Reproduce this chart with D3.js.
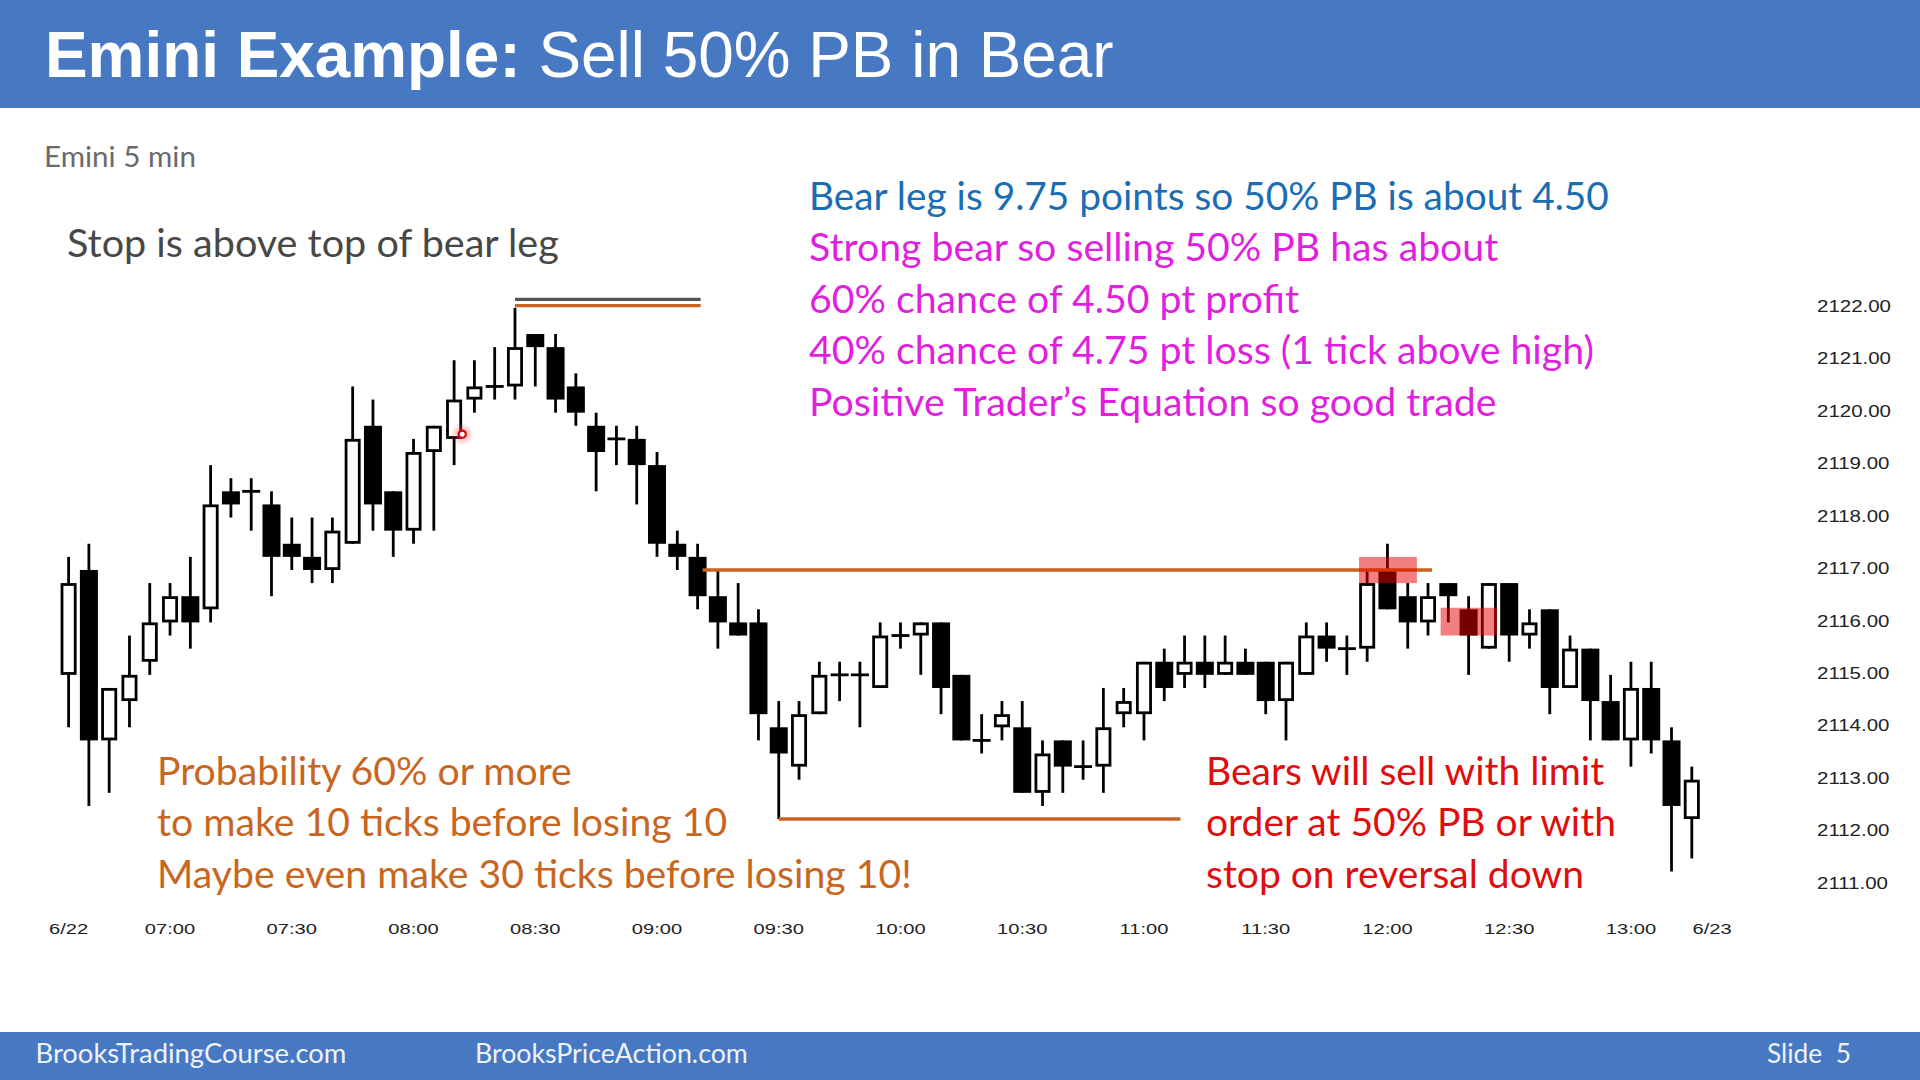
<!DOCTYPE html>
<html><head><meta charset="utf-8">
<script src="https://cdn.jsdelivr.net/npm/d3@7"></script>
<style>html,body{margin:0;padding:0;background:#fff;} svg{display:block;}</style>
</head><body>
<svg id="c" width="1920" height="1080"></svg>
<script>
// ---- DATA (Emini 5 min, 6/22, bars from 06:35) ----
const opens  = [2115.00,2117.00,2113.75,2114.50,2115.25,2116.00,2116.50,2116.25,2118.50,2118.50,
                2118.25,2117.50,2117.25,2117.00,2117.50,2119.75,2118.50,2117.75,2119.25,2119.50,
                2120.25,2120.50,2120.50,2121.50,2121.25,2120.50,2119.75,2119.50,2119.50,2119.00,
                2117.50,2117.25,2116.50,2116.00,2116.00,2114.00,2113.25,2114.25,2115.00,2115.00,
                2114.75,2115.75,2115.75,2116.00,2115.00,2113.75,2114.00,2114.00,2112.75,2113.75,
                2113.25,2113.25,2114.25,2114.25,2115.25,2115.00,2115.25,2115.00,2115.25,2115.25,
                2114.50,2115.00,2115.75,2115.50,2115.50,2117.00,2116.50,2116.00,2116.75,2116.25,
                2115.50,2116.75,2115.75,2116.25,2114.75,2115.50,2114.50,2113.75,2114.75,2113.75,
                2112.25];
const highs  = [2117.25,2117.50,2114.75,2115.75,2116.75,2116.75,2117.25,2119.00,2118.75,2118.75,
                2118.50,2118.00,2118.00,2118.00,2120.50,2120.25,2118.50,2119.50,2119.75,2121.00,
                2121.00,2121.25,2122.00,2121.50,2121.50,2120.75,2120.00,2119.75,2119.75,2119.25,
                2117.75,2117.50,2117.00,2116.75,2116.25,2114.50,2114.50,2115.25,2115.25,2115.25,
                2116.00,2116.00,2116.00,2116.00,2115.00,2114.25,2114.50,2114.50,2113.75,2113.75,
                2113.75,2114.75,2114.75,2115.25,2115.50,2115.75,2115.75,2115.75,2115.50,2115.25,
                2115.25,2116.00,2116.00,2115.75,2117.00,2117.50,2116.75,2116.75,2116.75,2116.50,
                2116.75,2116.75,2116.25,2116.25,2115.75,2115.50,2115.00,2115.25,2115.25,2114.00,
                2113.25];
const lows   = [2114.00,2112.50,2112.75,2114.00,2115.00,2115.75,2115.50,2116.00,2118.00,2117.75,
                2116.50,2117.00,2116.75,2116.75,2117.50,2117.75,2117.25,2117.50,2117.75,2119.00,
                2120.00,2120.25,2120.25,2120.50,2120.00,2119.75,2118.50,2119.00,2118.25,2117.25,
                2117.00,2116.25,2115.50,2115.75,2113.75,2112.25,2113.00,2114.25,2114.50,2114.00,
                2114.75,2115.50,2115.00,2114.25,2113.75,2113.50,2113.75,2112.75,2112.50,2112.75,
                2113.00,2112.75,2114.00,2113.75,2114.50,2114.75,2114.75,2115.00,2115.00,2114.25,
                2113.75,2115.00,2115.25,2115.00,2115.25,2116.25,2115.50,2115.75,2116.00,2115.00,
                2115.50,2115.25,2115.50,2114.25,2114.75,2113.75,2113.75,2113.25,2113.50,2111.25,
                2111.50];
const closes = [2116.75,2113.75,2114.75,2115.00,2116.00,2116.50,2116.00,2118.25,2118.25,2118.50,
                2117.25,2117.25,2117.00,2117.75,2119.50,2118.25,2117.75,2119.25,2119.75,2120.25,
                2120.50,2120.50,2121.25,2121.25,2120.25,2120.00,2119.25,2119.50,2119.00,2117.50,
                2117.25,2116.50,2116.00,2115.75,2114.25,2113.50,2114.25,2115.00,2115.00,2115.00,
                2115.75,2115.75,2116.00,2114.75,2113.75,2113.75,2114.25,2112.75,2113.50,2113.25,
                2113.25,2114.00,2114.50,2115.25,2114.75,2115.25,2115.00,2115.25,2115.00,2114.50,
                2115.25,2115.75,2115.50,2115.50,2116.75,2116.25,2116.00,2116.50,2116.50,2115.75,
                2116.75,2115.75,2116.00,2114.75,2115.50,2114.50,2113.75,2114.75,2113.75,2112.50,
                2113.00];
const yTickValues = [2111,2112,2113,2114,2115,2116,2117,2118,2119,2120,2121,2122];
const xTickBars   = [0,5,11,17,23,29,35,41,47,53,59,65,71,77,81];
const xTickLabels = ["6/22","07:00","07:30","08:00","08:30","09:00","09:30","10:00","10:30","11:00","11:30","12:00","12:30","13:00","6/23"];
// annotation levels (price) and bar spans
const stopLevel = 2122.16, bearTop = 2122.04, pbLevel = 2117, bearLow = 2112.25;
const redZones = [ {x0:63.6, x1:66.45, p0:2116.75, p1:2117.25}, {x0:67.62, x1:70.4, p0:2115.75, p1:2116.28} ];
const cursorMark = {bar:19.4, price:2119.59};

const svg = d3.select("#c");
const W = 1920, H = 1080;
const x = d3.scaleLinear().domain([0, 80]).range([68.6, 68.6 + 80*20.29]);
const y = d3.scaleLinear().domain([2111, 2122]).range([884.6, 307.8]);

svg.append("rect").attr("width",W).attr("height",H).attr("fill","#ffffff");
// header / footer bands
svg.append("rect").attr("x",0).attr("y",0).attr("width",W).attr("height",108).attr("fill","#4778c2");
svg.append("rect").attr("x",0).attr("y",1032).attr("width",W).attr("height",48).attr("fill","#4778c2");

function fit(t, w){ const cw = t.node().getComputedTextLength(); const fs = parseFloat(t.attr("font-size")); t.attr("font-size", fs*w/cw); return fs*w/cw; }

const title = svg.append("text").attr("x",45).attr("y",77).attr("font-family","'Liberation Sans', Arial, sans-serif")
  .attr("font-size",66).attr("fill","#ffffff").style("white-space","pre");
title.append("tspan").attr("font-weight","bold").text("Emini Example: ");
title.append("tspan").text("Sell 50% PB in Bear");
fit(title, 1069);

const CAL = "Lato, 'Open Sans', sans-serif";
fit(svg.append("text").attr("x",44).attr("y",167).attr("font-family",CAL).attr("font-size",26).attr("fill","#6a6a6a").text("Emini 5 min"), 152);
fit(svg.append("text").attr("x",67).attr("y",257).attr("font-family",CAL).attr("font-size",36).attr("fill","#474747").text("Stop is above top of bear leg"), 492);

const rightLines = [
  {t:"Bear leg is 9.75 points so 50% PB is about 4.50", c:"#1b6db3"},
  {t:"Strong bear so selling 50% PB has about", c:"#e01fe0"},
  {t:"60% chance of 4.50 pt profit", c:"#e01fe0"},
  {t:"40% chance of 4.75 pt loss (1 tick above high)", c:"#e01fe0"},
  {t:"Positive Trader\u2019s Equation so good trade", c:"#e01fe0"}
];
const rg = svg.append("g");
const rTexts = rg.selectAll("text").data(rightLines).join("text")
  .attr("x",809).attr("y",(d,i)=>210 + i*51.4).attr("font-family",CAL).attr("font-size",36)
  .attr("fill",d=>d.c).text(d=>d.t);
fit(d3.select(rTexts.nodes()[0]), 800);
const mfs = fit(d3.select(rTexts.nodes()[3]), 785);
rTexts.filter((d,i)=>i>0).attr("font-size", mfs);

const leftLines = ["Probability 60% or more","to make 10 ticks before losing 10","Maybe even make 30 ticks before losing 10!"];
const lTexts = svg.append("g").selectAll("text").data(leftLines).join("text")
  .attr("x",157).attr("y",(d,i)=>785 + i*51.4).attr("font-family",CAL).attr("font-size",36)
  .attr("fill","#c8661f").text(d=>d);
const lfs = fit(d3.select(lTexts.nodes()[2]), 755);
lTexts.attr("font-size", lfs);

const redLines = ["Bears will sell with limit","order at 50% PB or with","stop on reversal down"];
const bTexts = svg.append("g").selectAll("text").data(redLines).join("text")
  .attr("x",1206).attr("y",(d,i)=>785 + i*51.4).attr("font-family",CAL).attr("font-size",36)
  .attr("fill","#e00d0d").text(d=>d);
const bfs = fit(d3.select(bTexts.nodes()[1]), 410);
bTexts.attr("font-size", bfs);

// footer texts
fit(svg.append("text").attr("x",35.5).attr("y",1063).attr("font-family",CAL).attr("font-size",26).attr("fill","#eef2fb").text("BrooksTradingCourse.com"), 311);
fit(svg.append("text").attr("x",475).attr("y",1063).attr("font-family",CAL).attr("font-size",26).attr("fill","#eef2fb").text("BrooksPriceAction.com"), 273);
fit(svg.append("text").attr("x",1767).attr("y",1063).attr("font-family",CAL).attr("font-size",26).attr("fill","#eef2fb").style("white-space","pre").text("Slide  5"), 84);

// ---- axes ----
const yAxis = d3.axisRight(y).tickValues(yTickValues).tickSize(0).tickPadding(0).tickFormat(d3.format(".2f"));
const yg = svg.append("g").attr("transform","translate(1817,-2)").call(yAxis);
yg.select(".domain").remove();
yg.selectAll("text").attr("x",0).attr("dy","0.35em").attr("font-family","'Liberation Sans', Arial, sans-serif")
  .attr("font-size",16).attr("fill","#222").attr("text-anchor","start").attr("transform","scale(1.28,1)");

const xAxis = d3.axisBottom(x).tickValues(xTickBars).tickSize(0).tickPadding(0).tickFormat((d,i)=>xTickLabels[i]);
const xg = svg.append("g").attr("transform","translate(0,928.5)").call(xAxis);
xg.select(".domain").remove();
xg.selectAll("text").attr("y",0).attr("dy","0.35em").attr("font-family","'Liberation Sans', Arial, sans-serif")
  .attr("font-size",15.5).attr("fill","#222").attr("transform","scale(1.3,1)");
xg.selectAll(".tick").attr("transform", d => `translate(${x(d)},0)`);

// ---- candles ----
const bars = opens.map((o,i)=>({i, o, h:highs[i], l:lows[i], c:closes[i]}));
const SW = 2.8;
const cg = svg.append("g");
cg.selectAll("line.wick").data(bars).join("line").attr("class","wick")
  .attr("x1",d=>x(d.i)).attr("x2",d=>x(d.i)).attr("y1",d=>y(d.h)).attr("y2",d=>y(d.l))
  .attr("stroke","#000").attr("stroke-width",SW);
cg.selectAll("rect.body").data(bars.filter(d=>d.o!==d.c)).join("rect").attr("class","body")
  .attr("x",d=> d.c>d.o ? x(d.i)-8+SW/2 : x(d.i)-9)
  .attr("width",d=> d.c>d.o ? 16-SW : 18)
  .attr("y",d=> d.c>d.o ? y(Math.max(d.o,d.c))+SW/2 : y(Math.max(d.o,d.c)))
  .attr("height",d=> d.c>d.o ? Math.abs(y(d.o)-y(d.c))-SW : Math.abs(y(d.o)-y(d.c)))
  .attr("fill",d=> d.c>d.o ? "#fff" : "#000")
  .attr("stroke",d=> d.c>d.o ? "#000" : "none").attr("stroke-width",SW);
cg.selectAll("line.doji").data(bars.filter(d=>d.o===d.c)).join("line").attr("class","doji")
  .attr("x1",d=>x(d.i)-9).attr("x2",d=>x(d.i)+9).attr("y1",d=>y(d.o)).attr("y2",d=>y(d.o))
  .attr("stroke","#000").attr("stroke-width",SW);

// ---- annotation lines ----
const ORANGE = "#c8641e";
svg.append("line").attr("x1",x(22)).attr("x2",x(31.15)).attr("y1",y(stopLevel)).attr("y2",y(stopLevel)).attr("stroke","#555").attr("stroke-width",3.3);
svg.append("line").attr("x1",x(22)).attr("x2",x(31.15)).attr("y1",y(bearTop)).attr("y2",y(bearTop)).attr("stroke",ORANGE).attr("stroke-width",3.3);
svg.append("line").attr("x1",x(31.25)).attr("x2",x(67.2)).attr("y1",y(pbLevel)).attr("y2",y(pbLevel)).attr("stroke",ORANGE).attr("stroke-width",3.5);
svg.append("line").attr("x1",x(35)).attr("x2",x(54.8)).attr("y1",y(bearLow)).attr("y2",y(bearLow)).attr("stroke",ORANGE).attr("stroke-width",3.5);

// red zones
svg.append("g").selectAll("rect").data(redZones).join("rect")
  .attr("x",d=>x(d.x0)).attr("width",d=>x(d.x1)-x(d.x0))
  .attr("y",d=>y(d.p1)).attr("height",d=>y(d.p0)-y(d.p1))
  .attr("fill","#e80000").attr("opacity",0.5);

// cursor mark
const defs = svg.append("defs");
const rgd = defs.append("radialGradient").attr("id","glow");
rgd.append("stop").attr("offset","0%").attr("stop-color","#ff5050").attr("stop-opacity",0.55);
rgd.append("stop").attr("offset","100%").attr("stop-color","#ff5050").attr("stop-opacity",0);
svg.append("circle").attr("cx",x(cursorMark.bar)).attr("cy",y(cursorMark.price)).attr("r",12).attr("fill","url(#glow)");
svg.append("circle").attr("cx",x(cursorMark.bar)).attr("cy",y(cursorMark.price)).attr("r",3.6).attr("fill","#fff").attr("stroke","#e00000").attr("stroke-width",2.2);
</script>
</body></html>
